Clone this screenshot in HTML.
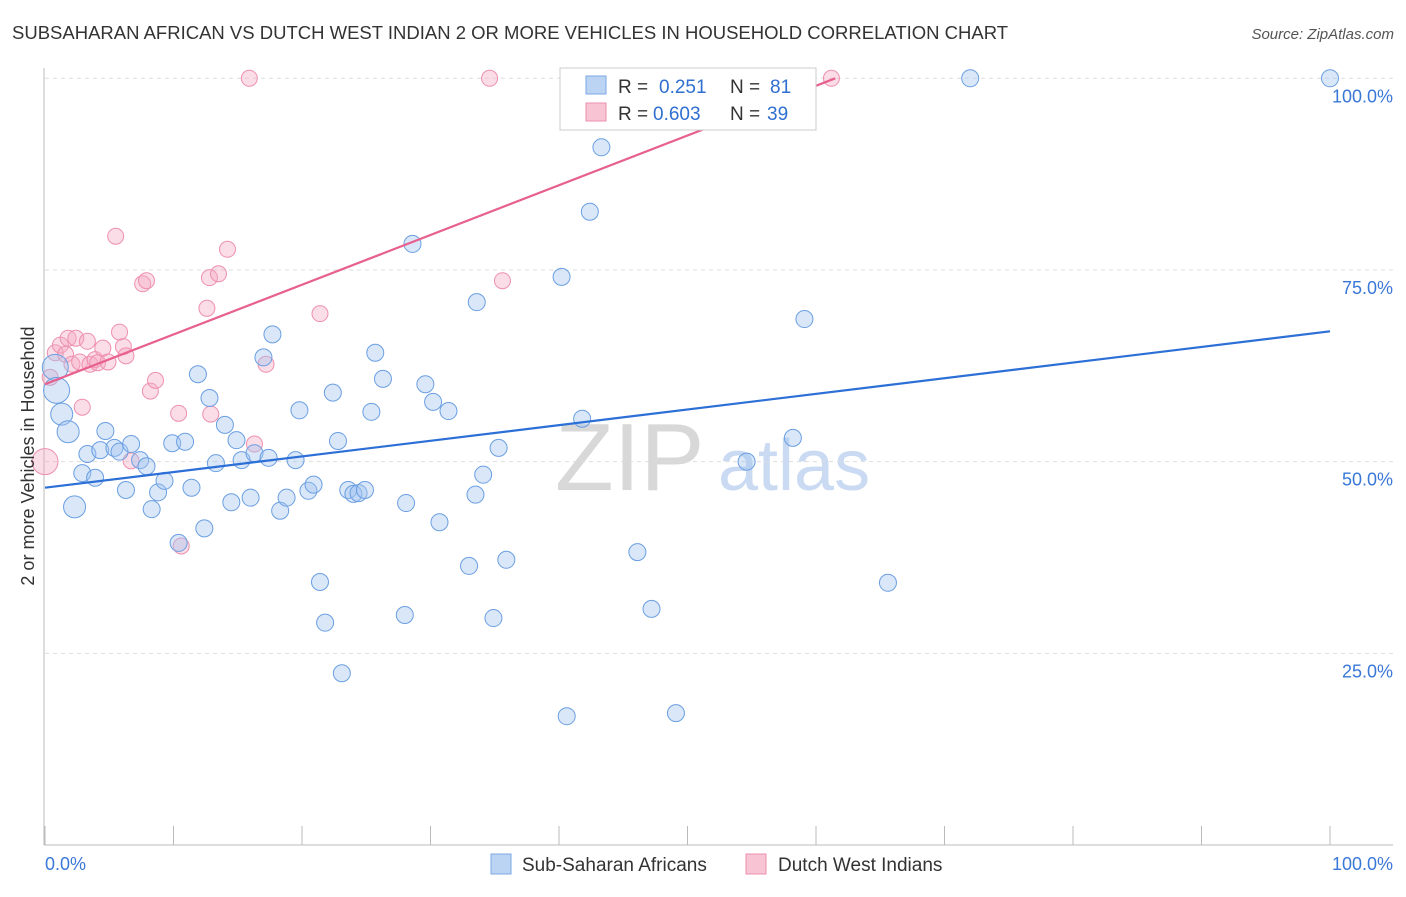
<!DOCTYPE html>
<html><head><meta charset="utf-8"><style>
body{margin:0;background:#fff;font-family:"Liberation Sans",sans-serif}
svg text{font-family:"Liberation Sans",sans-serif}
</style></head><body>
<svg id="chart" width="1406" height="892" xmlns="http://www.w3.org/2000/svg">
<text x="12" y="39" font-size="18.5" fill="#333">SUBSAHARAN AFRICAN VS DUTCH WEST INDIAN 2 OR MORE VEHICLES IN HOUSEHOLD CORRELATION CHART</text>
<text x="1394" y="39" font-size="15" fill="#555" text-anchor="end" font-style="italic">Source: ZipAtlas.com</text>
<g>
<text x="555" y="490" font-size="96" fill="#d8d8d8" font-family="Liberation Serif">ZIP</text>
<text x="718" y="490" font-size="72" fill="#c9daf2">atlas</text>
</g>
<g id="grid"></g>
<g id="axes"></g>
<g id="marks"></g>
<g>
<rect x="560" y="68" width="256" height="62" fill="#fff" stroke="#ccc"/>
<rect x="586" y="76" width="20" height="18" fill="#bcd4f4" stroke="#7aa8e6"/>
<text x="618" y="93" font-size="19" fill="#333">R = </text><text x="659" y="93" font-size="19" fill="#2f6fd0">0.251</text>
<text x="730" y="93" font-size="19" fill="#333">N = </text><text x="770" y="93" font-size="19" fill="#2f6fd0">81</text>
<rect x="586" y="103" width="20" height="18" fill="#f8c4d4" stroke="#ee90ae"/>
<text x="618" y="120" font-size="19" fill="#333">R = </text><text x="653" y="120" font-size="19" fill="#2f6fd0">0.603</text>
<text x="730" y="120" font-size="19" fill="#333">N = </text><text x="767" y="120" font-size="19" fill="#2f6fd0">39</text>
</g>
<g>
<rect x="491" y="854" width="20" height="20" fill="#bcd4f4" stroke="#7aa8e6"/>
<text x="522" y="871" font-size="19" fill="#333">Sub-Saharan Africans</text>
<rect x="746" y="854" width="20" height="20" fill="#f8c4d4" stroke="#ee90ae"/>
<text x="778" y="871" font-size="19" fill="#333">Dutch West Indians</text>
</g>
<text transform="translate(34,456) rotate(-90)" font-size="18" fill="#333" text-anchor="middle">2 or more Vehicles in Household</text>
</svg>
<script>
const yTicks=[25,50,75,100];
const yTickLabels=["25.0%","50.0%","75.0%","100.0%"];
const xTicks=[0,10,20,30,40,50,60,70,80,90,100];
const blueX=[0.8,0.9,1.3,1.8,2.3,2.9,3.3,3.9,4.3,4.7,5.4,5.8,6.3,6.7,7.4,7.9,8.3,8.8,9.3,9.9,10.4,10.9,11.4,11.9,12.4,12.8,13.3,14.0,14.5,14.9,15.3,16.0,16.3,17.0,17.4,17.7,18.3,18.8,19.5,19.8,20.5,20.9,21.4,21.8,22.4,22.8,23.1,23.6,24.0,24.4,24.9,25.4,25.7,26.3,28.0,28.1,28.6,29.6,30.2,30.7,31.4,33.0,33.5,33.6,34.1,34.9,35.3,35.9,40.2,40.6,41.8,42.4,43.3,46.1,47.2,49.1,54.6,58.2,59.1,65.6,72.0,100];
const blueY=[62.3,59.3,56.2,53.9,44.1,48.5,51.0,47.9,51.5,54.0,51.8,51.3,46.3,52.3,50.2,49.4,43.8,46.0,47.5,52.4,39.4,52.6,46.6,61.4,41.3,58.3,49.8,54.8,44.7,52.8,50.2,45.3,51.1,63.6,50.5,66.6,43.6,45.3,50.2,56.7,46.2,47.0,34.3,29.0,59.0,52.7,22.4,46.3,45.8,45.9,46.3,56.5,64.2,60.8,30.0,44.6,78.4,60.1,57.8,42.1,56.6,36.4,45.7,70.8,48.3,29.6,51.8,37.2,74.1,16.8,55.6,82.6,91.0,38.2,30.8,17.2,50.0,53.1,68.6,34.2,100,100];
const blueBig=[1,1,1,1,1,0,0,0,0,0,0,0,0,0,0,0,0,0,0,0,0,0,0,0,0,0,0,0,0,0,0,0,0,0,0,0,0,0,0,0,0,0,0,0,0,0,0,0,0,0,0,0,0,0,0,0,0,0,0,0,0,0,0,0,0,0,0,0,0,0,0,0,0,0,0,0,0,0,0,0,0,0];
const pinkX=[0,0.4,0.8,1.2,1.6,1.8,2.1,2.4,2.9,2.7,3.3,3.5,3.9,4.1,4.5,4.9,5.5,5.8,6.1,6.3,6.7,7.6,7.9,8.2,8.6,10.4,10.6,12.6,12.8,12.9,13.5,14.2,15.9,16.3,17.2,21.4,34.6,35.6,61.2];
const pinkY=[50.0,61.0,64.2,65.2,64.0,66.1,62.7,66.1,57.1,63.0,65.7,62.7,63.3,62.9,64.8,63.0,79.4,66.9,65.0,63.8,50.1,73.2,73.6,59.2,60.6,56.3,39.0,70.0,74.0,56.2,74.5,77.7,100,52.3,62.7,69.3,100,73.6,100];
const blueTrend=[[0,46.6],[100,67.0]];
const pinkTrend=[[0,60.1],[61.5,100]];
const NS="http://www.w3.org/2000/svg";
const X=v=>45+v*12.85, Y=v=>845-v*7.667;
function mk(tag,attrs,parent){const e=document.createElementNS(NS,tag);for(const k in attrs)e.setAttribute(k,attrs[k]);parent.appendChild(e);return e;}
const grid=document.getElementById('grid'),axes=document.getElementById('axes'),marks=document.getElementById('marks');
yTicks.forEach((t,i)=>{
 const l=mk('line',{x1:45,x2:1393,y1:Y(t),y2:Y(t),stroke:'#ddd','stroke-dasharray':'4,4'},grid);
 
 
 const tx=mk('text',{x:1393,y:Y(t)+24,'font-size':18,fill:'#3a78d8','text-anchor':'end'},axes);
 tx.textContent=yTickLabels[i];
 
 
});
const ax=mk('line',{x1:44,x2:44,y1:68,y2:845,stroke:'#bbb'},axes);


const bx=mk('line',{x1:44,x2:1393,y1:845,y2:845,stroke:'#bbb'},axes);


xTicks.forEach(t=>{
 const l=mk('line',{x1:X(t),x2:X(t),y1:826,y2:845,stroke:'#bbb'},axes);
 
 
});
const x0=mk('text',{x:45,y:870,'font-size':18,fill:'#3a78d8'},axes);x0.textContent='0.0%';


const x1=mk('text',{x:1393,y:870,'font-size':18,fill:'#3a78d8','text-anchor':'end'},axes);x1.textContent='100.0%';


pinkX.forEach((v,i)=>{
 const c=mk('circle',{cx:X(v),cy:Y(pinkY[i]),r:i==0?13:8,fill:'rgba(246,170,196,0.4)',stroke:'#ee90ae','stroke-width':1},marks);
 
 
});
blueX.forEach((v,i)=>{
 const c=mk('circle',{cx:X(v),cy:Y(blueY[i]),r:blueBig[i]?(i<2?13:11):8.5,fill:'rgba(160,196,240,0.4)',stroke:'#6b9fe2','stroke-width':1},marks);
 
 
});
const bl=mk('line',{x1:X(blueTrend[0][0]),y1:Y(blueTrend[0][1]),x2:X(blueTrend[1][0]),y2:Y(blueTrend[1][1]),stroke:'#2c6fd6','stroke-width':2.2},marks);


const pl=mk('line',{x1:X(pinkTrend[0][0]),y1:Y(pinkTrend[0][1]),x2:X(pinkTrend[1][0]),y2:Y(pinkTrend[1][1]),stroke:'#e8608e','stroke-width':2.2},marks);


</script>
</body></html>
